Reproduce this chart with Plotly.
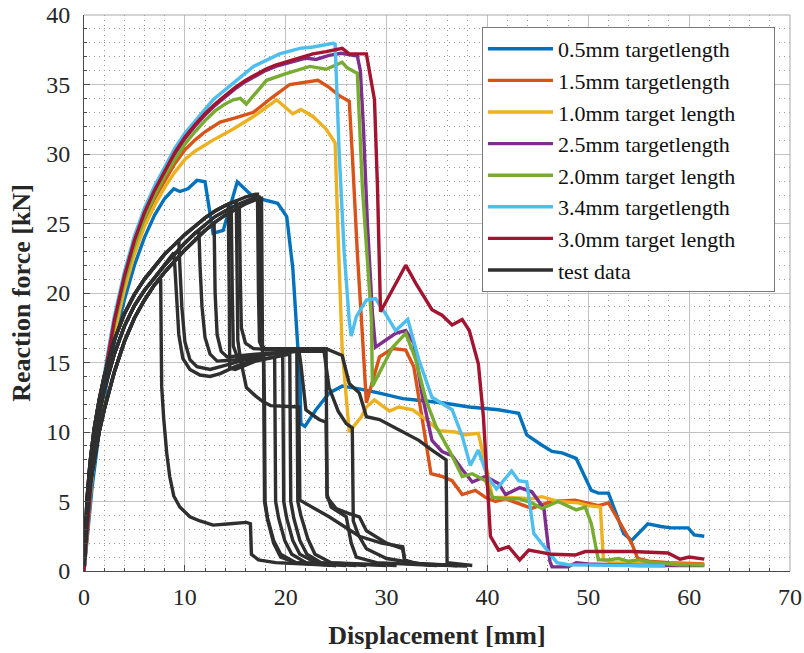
import plotly.graph_objects as go

# ---------------------------------------------------------------------------
# Simulated force-displacement curves (displacement [mm], reaction force [kN])
# ---------------------------------------------------------------------------
SIM_NAMES = [
    "0.5mm targetlength",
    "1.5mm targetlength",
    "1.0mm target length",
    "2.5mm targetlength",
    "2.0mm target length",
    "3.4mm targetlength",
    "3.0mm target length",
]
SIM_COLORS = ["#0072BD", "#D95319", "#EDB120", "#7E2F8E", "#77AC30", "#4DBEEE", "#A2142F"]

SIM_05_X = [0, 0.3, 0.8, 1.5, 2.2, 3, 4, 5, 6, 7, 8, 8.9, 9.5, 10.3, 11.2, 12.0, 12.8, 13.8, 15.2, 16.8,
            17.75, 19.2, 20.1, 20.7, 21.2, 21.4, 21.5, 21.9, 23.0, 24.3, 25.6, 27.3, 29.3, 31.6, 32.9, 35.5,
            38.2, 41.1, 43.1, 43.9, 45.3, 46.4, 47.4, 48.8, 50.3, 51.0, 52.0, 53.5, 54.3, 55.9, 57.2, 58.2,
            59.9, 60.5, 61.5]
SIM_05_Y = [0, 2.3, 6.0, 10.0, 13.3, 16.4, 19.5, 22.0, 24.0, 25.6, 26.8, 27.5, 27.3, 27.5, 28.1, 28.0, 24.3,
            24.5, 28.0, 26.9, 26.7, 26.45, 25.5, 21.8, 16.1, 14.2, 10.6, 10.4, 11.6, 12.8, 13.3, 13.1, 12.8,
            12.4, 12.3, 12.1, 11.8, 11.6, 11.35, 9.8, 9.1, 8.6, 8.5, 8.1, 5.8, 5.6, 5.6, 2.7, 2.2, 3.4, 3.2,
            3.1, 3.1, 2.6, 2.5]

SIM_15_X = [0, 0.3, 0.8, 1.5, 2.2, 3, 4, 5, 6, 7, 8, 9, 10, 11, 12, 13.5, 15, 16.8, 18.7, 20.4, 23.2, 24.3,
            25.3, 26.3, 26.6, 27.1, 27.6, 28.0, 29.3, 30.6, 31.9, 32.7, 33.5, 34.4, 35.5, 36.5, 37.5, 38.8,
            39.8, 40.8, 41.8, 43.0, 44.4, 45.5, 46.4, 48.7, 51.0, 52.0, 53.3, 54.3, 54.9, 56, 58, 61.5]
SIM_15_Y = [0, 2.75, 7.0, 10.9, 14.2, 17.5, 20.6, 23.2, 25.2, 26.8, 28.1, 29.3, 30.3, 31.0, 31.6, 32.3, 32.6,
            33.0, 34.1, 35.0, 35.3, 34.8, 34.2, 33.8, 30.0, 22.9, 17.0, 12.1, 15.4, 16.0, 15.9, 14.7, 11.1,
            7.0, 6.8, 6.5, 5.5, 5.8, 5.3, 5.0, 5.2, 4.9, 4.5, 4.8, 5.0, 5.1, 4.7, 4.9, 3.2, 2.0, 0.9, 0.7,
            0.6, 0.5]

SIM_10_X = [0, 0.3, 0.8, 1.5, 2.2, 3, 4, 5, 6, 7, 8, 9, 10, 11, 12.8, 14.8, 16.8, 19.1, 20.7, 21.5, 22.7,
            24.0, 24.9, 25.2, 25.6, 26.3, 27.5, 28.0, 28.8, 30.3, 31.2, 32.6, 33.9, 35.2, 36.8, 37.8, 39.1,
            39.8, 40.5, 41.8, 44.4, 45.4, 47.0, 49.0, 50.0, 51.2, 51.5, 52.5, 55, 58, 61.5]
SIM_10_Y = [0, 2.7, 6.8, 10.6, 13.9, 17.1, 20.2, 22.8, 24.8, 26.3, 27.6, 28.7, 29.6, 30.2, 31.0, 31.8, 32.7,
            33.9, 32.9, 33.2, 32.7, 31.8, 30.8, 24.0, 15.9, 10.0, 11.1, 11.8, 12.3, 11.5, 11.8, 11.6, 10.9,
            10.1, 10.0, 9.8, 9.9, 7.7, 5.3, 5.3, 5.2, 5.35, 5.0, 4.9, 4.7, 4.6, 0.8, 0.6, 0.55, 0.5, 0.45]

SIM_25_X = [0, 0.3, 0.8, 1.5, 2.2, 3, 4, 5, 6, 7, 8, 9, 10, 11, 12, 13, 14, 15, 16, 17, 18, 19, 20, 21, 22,
            23.0, 24.3, 25.5, 27.1, 27.4, 27.7, 28.1, 28.6, 28.9, 29.9, 30.9, 31.9, 32.7, 33.5, 34.5, 35.5,
            36.5, 37.5, 38.5, 39.8, 41.1, 41.8, 43.2, 44.4, 45.6, 46.2, 46.4, 48.0, 48.8, 50, 52, 55, 58, 61.5]
SIM_25_Y = [0, 2.85, 7.2, 11.2, 14.6, 17.9, 21.1, 23.7, 25.7, 27.3, 28.7, 30.0, 31.1, 32.0, 32.8, 33.5, 34.1,
            34.7, 35.2, 35.6, 36.0, 36.3, 36.5, 36.7, 36.9, 36.8, 37.1, 37.25, 37.05, 36.0, 32.0, 25.0, 18.5,
            16.1, 16.6, 17.1, 17.3, 16.4, 12.8, 9.4, 8.6, 8.3, 7.3, 6.4, 6.8, 6.3, 5.5, 6.0, 5.7, 4.5, 0.7,
            0.3, 0.3, 0.6, 0.5, 0.45, 0.4, 0.4, 0.4]

SIM_20_X = [0, 0.3, 0.8, 1.5, 2.2, 3, 4, 5, 6, 7, 8, 9, 10, 11, 12, 13, 14, 14.8, 15.5, 16.1, 17.0, 18.1,
            20.1, 22.4, 24.0, 25.6, 26.1, 27.1, 27.6, 28.5, 28.6, 30.6, 31.9, 32.9, 33.9, 34.9, 36.2, 37.5,
            38.5, 39.8, 40.5, 41.8, 43.1, 44.4, 45.4, 47.0, 48.8, 49.7, 50.3, 51.0, 52.0, 53, 54, 55, 56,
            57.6, 59, 61.5]
SIM_20_Y = [0, 2.8, 7.1, 11.0, 14.4, 17.7, 20.8, 23.4, 25.4, 27.0, 28.4, 29.6, 30.7, 31.6, 32.4, 33.1, 33.6,
            33.9, 34.0, 33.6, 34.4, 35.3, 35.8, 36.3, 36.1, 36.6, 36.2, 35.8, 27.6, 18.1, 13.3, 16.1, 17.1,
            15.2, 12.3, 10.4, 8.7, 6.8, 7.0, 6.5, 5.3, 5.2, 5.2, 4.9, 4.5, 5.0, 4.4, 4.6, 3.4, 0.8, 0.8, 0.9,
            0.7, 0.8, 0.65, 0.55, 0.45, 0.43]

SIM_34_X = [0, 0.3, 0.8, 1.5, 2.2, 3, 4, 5, 6, 7, 8, 9, 10, 10.8, 12.8, 14.8, 16.8, 19.4, 21.4, 22.7, 24.7,
            24.9, 25.1, 25.3, 25.8, 26.3, 26.5, 27.0, 28.0, 28.9, 29.9, 30.9, 32.1, 33.2, 34.5, 36.5, 37.5,
            38.3, 39.1, 40.0, 40.9, 42.4, 43.1, 43.9, 44.6, 46.0, 46.9, 48, 52, 57.6]
SIM_34_Y = [0, 3.0, 7.5, 11.6, 15.0, 18.3, 21.5, 24.1, 26.1, 27.7, 29.1, 30.4, 31.5, 32.2, 33.9, 35.1, 36.3,
            37.2, 37.6, 37.7, 37.96, 37.9, 34.0, 30.1, 22.9, 18.0, 16.9, 18.3, 19.5, 19.6, 18.5, 17.3, 18.1,
            15.2, 12.5, 11.6, 9.7, 7.6, 8.7, 6.8, 5.9, 7.2, 6.5, 6.4, 2.7, 1.4, 0.6, 0.45, 0.4, 0.36]

SIM_30_X = [0, 0.3, 0.8, 1.5, 2.2, 3, 4, 5, 6, 7, 8, 9, 10, 11, 12, 13, 14, 15, 16, 17, 18, 19, 20, 21, 22.7,
            24.0, 25.6, 26.3, 28.0, 28.8, 29.1, 29.4, 31.9, 32.9, 34.5, 35.5, 36.5, 37.5, 38.2, 39.1, 39.6,
            40.3, 41.1, 42.1, 43.2, 44.1, 46.4, 48.7, 49.7, 54.3, 57.9, 59.1, 60.0, 61.5]
SIM_30_Y = [0, 2.9, 7.3, 11.3, 14.7, 18.0, 21.2, 23.8, 25.8, 27.4, 28.8, 30.1, 31.2, 32.1, 32.9, 33.6, 34.2,
            34.8, 35.3, 35.7, 36.1, 36.4, 36.6, 36.8, 37.2, 37.36, 37.6, 37.2, 37.2, 33.9, 27.6, 18.65, 22.0,
            20.7, 18.8, 18.4, 17.7, 18.1, 17.3, 14.9, 11.1, 2.5, 1.5, 1.75, 0.8, 1.5, 1.2, 1.15, 1.4, 1.4,
            1.3, 0.85, 1.0, 0.85]

SIM_X = [SIM_05_X, SIM_15_X, SIM_10_X, SIM_25_X, SIM_20_X, SIM_34_X, SIM_30_X]
SIM_Y = [SIM_05_Y, SIM_15_Y, SIM_10_Y, SIM_25_Y, SIM_20_Y, SIM_34_Y, SIM_30_Y]

# ---------------------------------------------------------------------------
# Test specimens: loading branches (upper / mid / lower scatter band) and the
# measured post-peak response of every specimen (first point = peak)
# ---------------------------------------------------------------------------
TEST_LOAD_X = [0, 0.1, 0.3, 0.6, 1.0, 1.5, 2.0, 3.0, 4.0, 5.0, 6.0, 7.0, 8.0, 9.0, 10.0, 11.0, 12.0,
               13.0, 14.0, 15.0, 16.0, 17.0]
TEST_LOAD_UPPER = [0.4, 2.5, 5.2, 7.8, 10.2, 12.3, 14.0, 16.6, 18.5, 19.9, 21.0, 21.9, 22.8, 23.5, 24.2,
                   24.8, 25.4, 25.9, 26.3, 26.6, 26.9, 27.1]
TEST_LOAD_MID = [0.4, 2.2, 4.6, 7.0, 9.2, 11.3, 13.0, 15.6, 17.6, 19.1, 20.2, 21.1, 22.0, 22.8, 23.6,
                 24.3, 24.9, 25.5, 25.9, 26.3, 26.6, 26.9]
TEST_LOAD_LOWER = [0.4, 1.8, 4.0, 6.2, 8.0, 10.0, 11.6, 14.3, 16.5, 18.2, 19.5, 20.6, 21.5, 22.3, 23.1,
                   23.8, 24.5, 25.1, 25.6, 26.0, 26.4, 26.7]

SPEC_01_X = [7.6, 7.7, 7.9, 8.2, 8.5, 8.9, 9.5, 10.5, 11.5, 12.8, 14.5, 16.1, 16.5, 16.6, 17.3, 19, 22, 25]
SPEC_01_Y = [21.0, 13.3, 11, 8.5, 6.8, 5.4, 4.6, 3.9, 3.6, 3.3, 3.4, 3.5, 3.4, 1.2, 0.8, 0.6, 0.5, 0.4]
SPEC_02_X = [8.9, 9.0, 9.2, 9.4, 9.8, 10.5, 11.5, 12.5, 13.5, 15, 16.5, 18, 18.9, 19.0, 19.3, 19.9, 20.6, 22, 27]
SPEC_02_Y = [22.9, 22.0, 19.5, 17.0, 15.3, 14.5, 14.1, 14.0, 14.2, 14.7, 15.1, 15.3, 15.4, 5.0, 3.8, 2.2, 1.2, 0.6, 0.4]
SPEC_03_X = [9.4, 9.5, 9.7, 10.0, 10.5, 11.2, 12.5, 14, 16, 17.8, 17.9, 17.95, 18.2, 18.8, 19.5, 21, 25]
SPEC_03_Y = [23.8, 22, 19, 16.5, 15.2, 14.7, 14.5, 14.8, 15.2, 15.4, 11.9, 5.0, 3.8, 2.2, 1.2, 0.6, 0.4]
SPEC_04_X = [11.4, 11.5, 11.7, 12.0, 12.5, 13.2, 15, 17, 19.7, 19.8, 20.1, 20.7, 21.4, 23, 28]
SPEC_04_Y = [24.4, 22, 19, 16.8, 15.6, 15.1, 15.2, 15.5, 15.7, 5.0, 3.8, 2.2, 1.2, 0.6, 0.4]
SPEC_05_X = [12.9, 13.0, 13.2, 13.6, 14.2, 17, 21, 23.8, 24.3, 25.2, 26.0, 26.6, 26.7, 27.2, 28, 30, 33, 37]
SPEC_05_Y = [25.0, 20, 17, 15.8, 15.4, 15.6, 15.8, 15.8, 13.2, 11.5, 10.6, 10.3, 3.6, 2.6, 1.6, 0.9, 0.55, 0.4]
SPEC_06_X = [14.3, 14.4, 14.45, 15, 17, 20.4, 20.5, 20.8, 21.4, 22.1, 23.5, 30]
SPEC_06_Y = [26.4, 20, 14.6, 14.5, 15.1, 15.6, 5.0, 3.8, 2.2, 1.2, 0.6, 0.4]
SPEC_07_X = [14.6, 14.7, 14.8, 15.3, 17, 21.1, 21.2, 21.5, 22.2, 22.9, 24.5, 31]
SPEC_07_Y = [26.1, 20, 16.2, 15.2, 15.5, 15.8, 5.0, 4.0, 2.3, 1.2, 0.6, 0.4]
SPEC_08_X = [15.1, 15.2, 15.25, 15.5, 16.1, 17.0, 17.7, 18.5, 21.3, 21.4, 24.3, 27.3, 29.5, 31.6, 31.8, 33, 37]
SPEC_08_Y = [26.6, 20, 16.6, 15.3, 13.2, 12.6, 12.2, 11.9, 11.8, 5.1, 3.9, 2.5, 2.0, 1.75, 0.8, 0.5, 0.4]
SPEC_09_X = [15.4, 15.5, 15.6, 16.0, 16.8, 19, 21.3, 21.5, 22.0, 23.3, 24.0, 24.1, 25, 26, 27.3, 28, 30,
             31.6, 31.8, 34, 38]
SPEC_09_Y = [26.15, 21, 17.5, 16.4, 16.0, 15.9, 15.9, 14.9, 11.6, 10.9, 10.7, 5.3, 4.5, 4.2, 3.9, 2.9, 2.0,
             1.6, 0.7, 0.45, 0.35]
SPEC_10_X = [17.2, 17.3, 17.4, 17.7, 20, 24.0, 24.1, 24.5, 26.0, 26.5, 27, 29, 35]
SPEC_10_Y = [27.1, 20, 16.5, 16.0, 16.0, 16.0, 5.5, 4.6, 3.9, 2.0, 1.0, 0.6, 0.4]
SPEC_11_X = [17.4, 17.5, 17.6, 18, 20, 24, 25.6, 26.3, 27.3, 28, 29.3, 30.6, 31.9, 33.2, 34.5, 35.9, 36.0, 38.5]
SPEC_11_Y = [26.9, 20, 16.3, 15.9, 16.0, 16.0, 15.5, 13.5, 12.8, 11.1, 10.9, 10.4, 9.9, 9.4, 8.7, 8.0, 0.6, 0.4]
SPEC_12_X = [17.6, 17.7, 17.8, 17.9, 18.2, 18.8, 19.5, 21, 26]
SPEC_12_Y = [26.8, 15.7, 15.4, 5.0, 3.7, 2.0, 1.0, 0.6, 0.4]

SPECIMENS = [
    (TEST_LOAD_LOWER, SPEC_01_X, SPEC_01_Y),
    (TEST_LOAD_MID, SPEC_02_X, SPEC_02_Y),
    (TEST_LOAD_UPPER, SPEC_03_X, SPEC_03_Y),
    (TEST_LOAD_MID, SPEC_04_X, SPEC_04_Y),
    (TEST_LOAD_LOWER, SPEC_05_X, SPEC_05_Y),
    (TEST_LOAD_UPPER, SPEC_06_X, SPEC_06_Y),
    (TEST_LOAD_MID, SPEC_07_X, SPEC_07_Y),
    (TEST_LOAD_UPPER, SPEC_08_X, SPEC_08_Y),
    (TEST_LOAD_LOWER, SPEC_09_X, SPEC_09_Y),
    (TEST_LOAD_UPPER, SPEC_10_X, SPEC_10_Y),
    (TEST_LOAD_MID, SPEC_11_X, SPEC_11_Y),
    (TEST_LOAD_LOWER, SPEC_12_X, SPEC_12_Y),
]
TEST_COLOR = "#2f2f2f"
TEST_NAME = "test data"

X_TICKS = [0, 10, 20, 30, 40, 50, 60, 70]
Y_TICKS = [0, 5, 10, 15, 20, 25, 30, 35, 40]

SERIF = "Liberation Serif, Times New Roman, serif"
# trailing padding that gives the legend box some room right of the longest label
LEGEND_PAD = "\u00a0" * 6

fig = go.Figure()

for name, color, xs, ys in zip(SIM_NAMES, SIM_COLORS, SIM_X, SIM_Y):
    fig.add_trace(go.Scatter(x=xs, y=ys, mode="lines", name=name + LEGEND_PAD,
                             line=dict(color=color, width=3.4)))

for i, (branch, post_x, post_y) in enumerate(SPECIMENS):
    pre = [(x, y) for x, y in zip(TEST_LOAD_X, branch) if x < post_x[0]]
    xs = [p[0] for p in pre] + post_x
    ys = [p[1] for p in pre] + post_y
    fig.add_trace(go.Scatter(x=xs, y=ys, mode="lines", name=TEST_NAME,
                             legendgroup="test", showlegend=(i == 0),
                             line=dict(color=TEST_COLOR, width=3.4)))

axis_common = dict(
    showgrid=True, gridcolor="#c2c2c2", gridwidth=1,
    zeroline=False, showline=True, linecolor="#4a4a4a", linewidth=1,
    ticks="inside", ticklen=6, tickcolor="#4a4a4a",
    tickfont=dict(family=SERIF, size=24, color="#262626"),
    automargin=False,
)

fig.update_xaxes(
    range=[0, 70], tickvals=X_TICKS,
    minor=dict(dtick=2, showgrid=True, gridcolor="#9a9a9a", griddash="1px,4px",
               ticks="inside", ticklen=3, tickcolor="#4a4a4a"),
    title=dict(text="<b>Displacement [mm]</b>", font=dict(family=SERIF, size=26, color="#262626"),
               standoff=17),
    ticklabelstandoff=4,
    **axis_common,
)
fig.update_yaxes(
    range=[0, 40], tickvals=Y_TICKS,
    minor=dict(dtick=1, showgrid=True, gridcolor="#9a9a9a", griddash="1px,4px",
               ticks="inside", ticklen=3, tickcolor="#4a4a4a"),
    title=dict(text="<b>Reaction force [kN]</b>", font=dict(family=SERIF, size=26, color="#262626"),
               standoff=8),
    ticklabelstandoff=8,
    **axis_common,
)

# light frame along the top and right edges of the axes box
fig.add_shape(type="line", xref="paper", yref="paper", x0=0, x1=1, y0=1, y1=1,
              line=dict(color="#a8a8a8", width=1))
fig.add_shape(type="line", xref="paper", yref="paper", x0=1, x1=1, y0=0, y1=1,
              line=dict(color="#a8a8a8", width=1))

fig.update_layout(
    width=804, height=653,
    margin=dict(l=84, r=14, t=15, b=82),
    paper_bgcolor="white", plot_bgcolor="white",
    font=dict(family=SERIF, size=23, color="#262626"),
    legend=dict(x=0.5637, y=0.9784, xanchor="left", yanchor="top",
                bgcolor="white", bordercolor="#7a7a7a", borderwidth=1,
                font=dict(family=SERIF, size=22, color="#111111"),
                itemwidth=65, tracegroupgap=0),
    showlegend=True,
)

fig.write_html("out.html")
